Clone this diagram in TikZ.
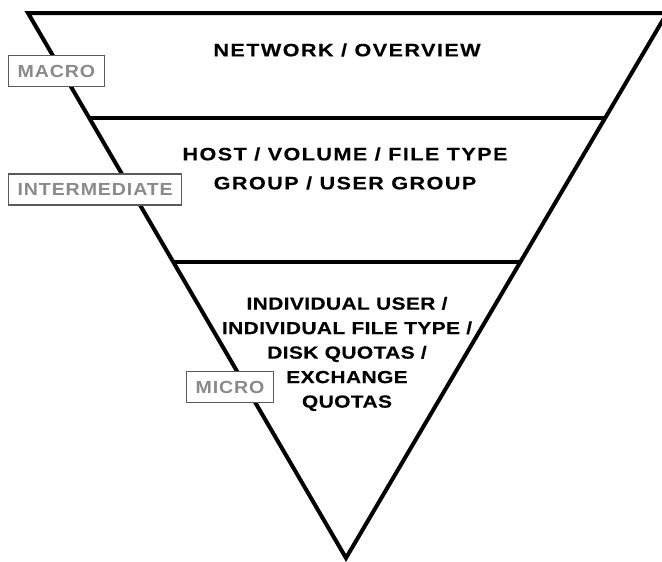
\documentclass[tikz,border=0pt]{standalone}
\usepackage{fontspec}
\setmainfont{Liberation Sans}
\newfontfamily\widefont{Liberation Sans}[FakeStretch=1.2,LetterSpace=8,FakeBold=0.2]
\newfontfamily\tightfont{Liberation Sans}[FakeStretch=1.2,LetterSpace=2,FakeBold=0.2]
\newfontfamily\boxfont{Liberation Sans}[FakeStretch=1.12,LetterSpace=5]
\usetikzlibrary{calc,positioning}
\definecolor{labelgray}{HTML}{8A8A8A}
\definecolor{boxgray}{HTML}{5A5A5A}

\begin{document}
\begin{tikzpicture}[x=1pt,y=-1pt,
    level/.style={align=center, text=black, inner sep=0pt,
      font=\widefont\bfseries\fontsize{18}{29}\selectfont},
    microlevel/.style={level, font=\tightfont\bfseries\fontsize{17.5}{24.5}\selectfont},
    scalebox/.style={draw=boxgray, line width=1.2pt, fill=white, text=labelgray,
      anchor=west, inner xsep=9pt, minimum height=31pt,
      font=\boxfont\bfseries\fontsize{17.5}{20}\selectfont}]
  \useasboundingbox (0,0) rectangle (662,562);
  % Funnel corners
  \coordinate (tl) at (28,13);
  \coordinate (tr) at (667,13);
  \coordinate (apex) at (346,558);
  \draw[line width=4pt] (tl) -- (tr) -- (apex) -- cycle;
  % Level dividers
  \coordinate (l1) at ($(tl)!0.193!(apex)$);
  \coordinate (r1) at ($(tr)!0.193!(apex)$);
  \coordinate (l2) at ($(tl)!0.457!(apex)$);
  \coordinate (r2) at ($(tr)!0.457!(apex)$);
  \draw[line width=4pt] (l1) -- (r1);
  \draw[line width=4pt] (l2) -- (r2);
  % Level contents
  \node[level] (network) at (347,50) {NETWORK / OVERVIEW};
  \node[level] (host) at (345,168.5) {HOST / VOLUME / FILE TYPE\\GROUP / USER GROUP};
  \node[microlevel] (individual) at (347,354) {INDIVIDUAL USER /\\INDIVIDUAL FILE TYPE /\\DISK QUOTAS /\\EXCHANGE\\QUOTAS};
  % Scale labels
  \node[scalebox] (macro) at (8,71) {MACRO};
  \node[scalebox] (intermediate) at (8,189.5) {INTERMEDIATE};
  \node[scalebox] (micro) at (186,387) {MICRO};
\end{tikzpicture}
\end{document}
